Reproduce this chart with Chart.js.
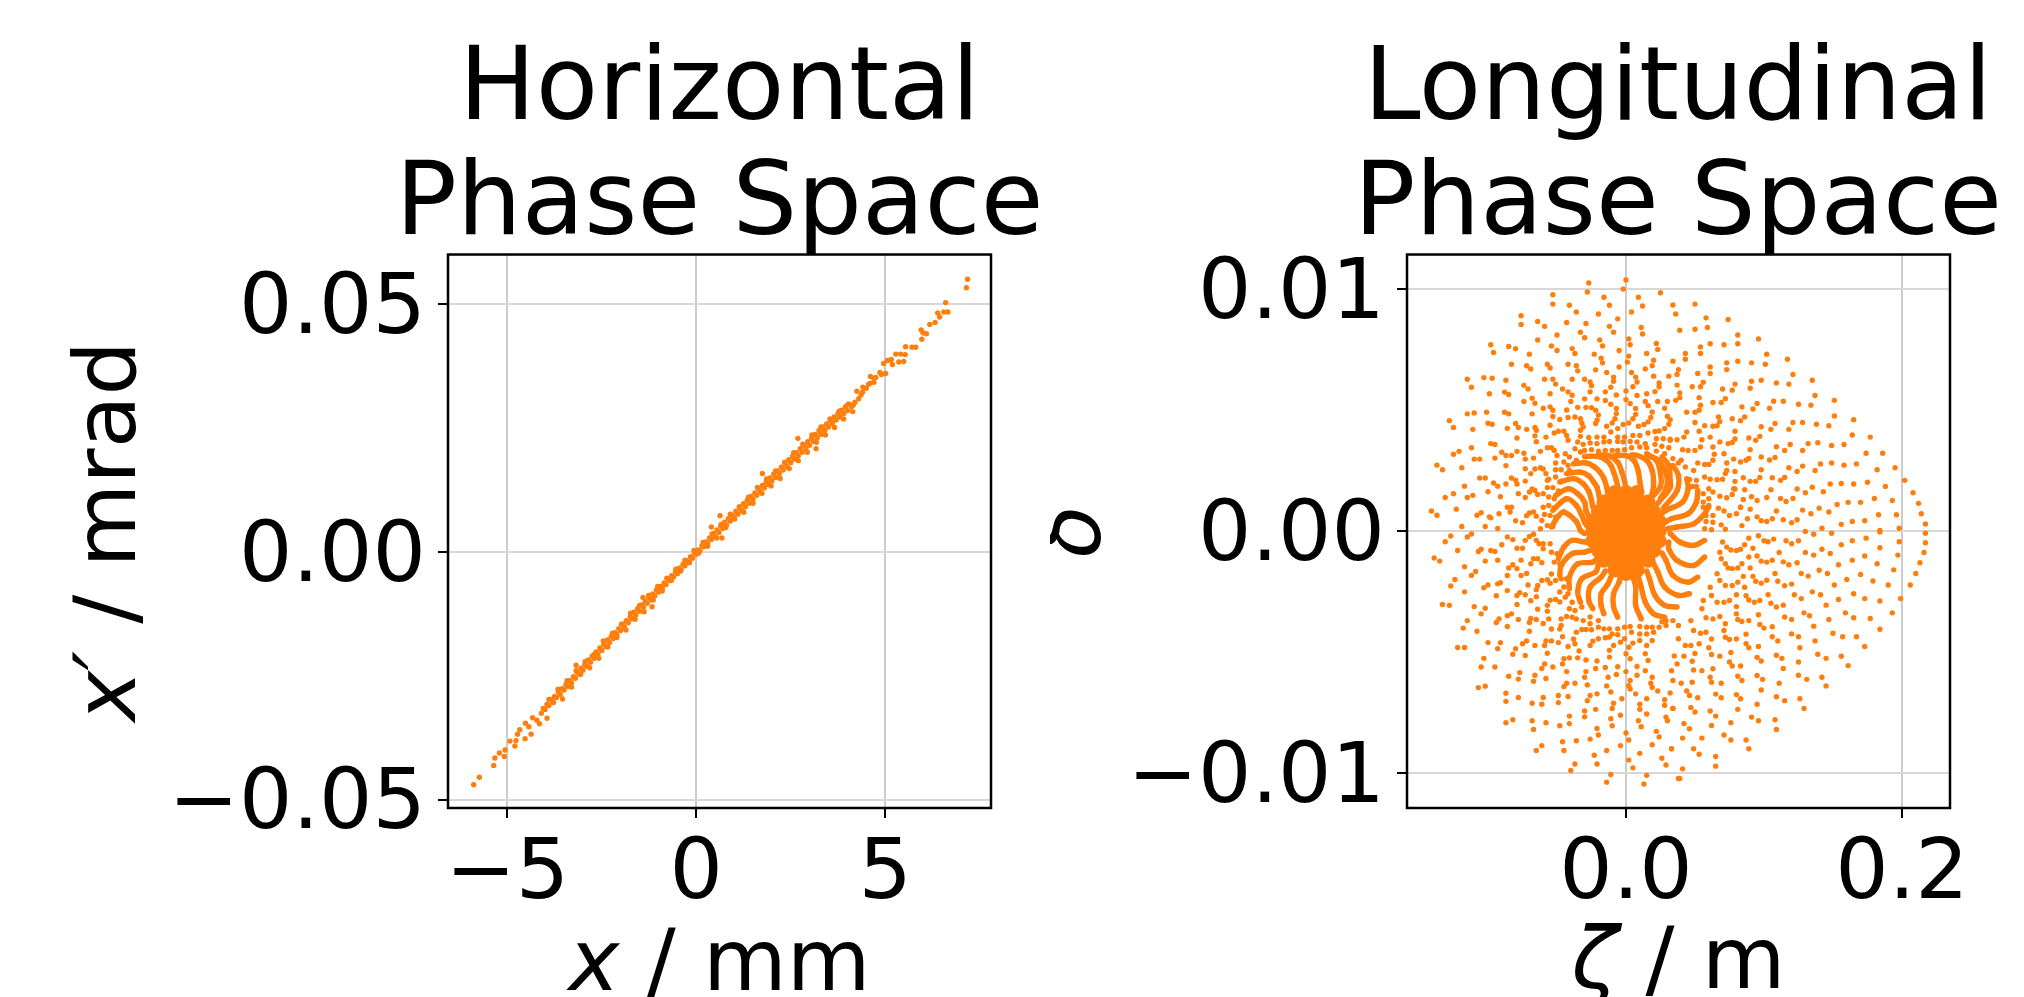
<!DOCTYPE html>
<html><head><meta charset="utf-8">
<style>html,body{margin:0;padding:0;background:#fff;width:2024px;height:997px;overflow:hidden}
#w{position:relative;width:2024px;height:997px;overflow:hidden}canvas{position:absolute;top:0}</style>
<script src="https://cdn.jsdelivr.net/npm/chart.js@4/dist/chart.umd.min.js"></script></head><body>
<div id="w"><canvas id="a" style="left:0"></canvas><canvas id="b" style="left:1050px"></canvas></div>
<script>
// Horizontal phase space: flat pairs x [mm], x' [1e-4 mrad]
const horizontalOutliers=[7.18,550,7.15,533,6.6,503,6.39,482,6.44,474,6.55,484,6.66,484,6.32,463,6.18,459,5.95,448,6.0,442,6.09,440,5.97,429,5.54,414,5.71,413,5.81,413,5.28,399,5.41,399,5.53,398,5.49,384,5.36,383,5.19,378,5.16,388,5.06,386,4.96,380,4.86,362,5.01,360,4.61,354,4.7,350,4.56,338,4.41,332,4.25,324,4.36,317,4.15,296,2.69,229,3.17,208,1.75,158,.63,73,.4,50,.68,28,-1.41,-92,-1.17,-111,-3.18,-229,-3.95,-336,-4.37,-368,-4.53,-377,-4.52,-346,-4.43,-353,-4.15,-347,-4.33,-335,-4.22,-340,-4.67,-359,-4.73,-368,-4.77,-381,-4.8,-392,-4.93,-382,-5.06,-400,-5.21,-406,-5.08,-413,-5.33,-416,-5.36,-431,-5.74,-455,-5.89,-470];
const horizontalBand=[-4.1,-326,-4.05,-316,-4,-318,-3.95,-308,-3.9,-310,-3.85,-298,-3.8,-302,-3.75,-292,-3.7,-294,-3.65,-283,-3.6,-288,-3.55,-276,-3.5,-279,-3.45,-268,-3.4,-272,-3.35,-260,-3.3,-264,-3.25,-252,-3.2,-255,-3.15,-243,-3.1,-247,-3.05,-235,-3,-239,-2.95,-227,-2.9,-231,-2.85,-218,-2.8,-223,-2.75,-210,-2.7,-215,-2.65,-202,-2.6,-207,-2.55,-194,-2.5,-199,-2.45,-186,-2.4,-191,-2.35,-178,-2.3,-183,-2.25,-171,-2.2,-175,-2.15,-163,-2.1,-167,-2.05,-155,-2,-159,-1.95,-146,-1.9,-152,-1.85,-139,-1.8,-143,-1.75,-131,-1.7,-135,-1.65,-122,-1.6,-128,-1.55,-115,-1.5,-120,-1.45,-107,-1.4,-112,-1.35,-100,-1.3,-104,-1.25,-92,-1.2,-97,-1.15,-85,-1.1,-89,-1.05,-77,-1,-81,-.95,-70,-.9,-73,-.85,-63,-.8,-66,-.75,-55,-.7,-58,-.65,-48,-.6,-51,-.55,-40,-.5,-44,-.45,-33,-.4,-36,-.35,-25,-.3,-28,-.25,-18,-.2,-21,-.15,-10,-.1,-13,-.05,-2,0,-5,.05,4,.1,2,.15,12,.2,10,.25,20,.3,17,.35,28,.4,25,.45,37,.5,31,.55,44,.6,39,.65,52,.7,47,.75,60,.8,54,.85,67,.9,62,.95,74,1,69,1.05,82,1.1,76,1.15,89,1.2,83,1.25,97,1.3,91,1.35,104,1.4,98,1.45,112,1.5,106,1.55,119,1.6,114,1.65,127,1.7,121,1.75,134,1.8,129,1.85,141,1.9,136,1.95,149,2,143,2.05,157,2.1,150,2.15,163,2.2,158,2.25,171,2.3,165,2.35,178,2.4,172,2.45,186,2.5,180,2.55,193,2.6,187,2.65,200,2.7,194,2.75,208,2.8,201,2.85,215,2.9,208,2.95,222,3,215,3.05,229,3.1,223,3.15,237,3.2,230,3.25,245,3.3,237,3.35,252,3.4,245,3.45,258,3.5,252,3.55,265,3.6,259,3.65,272,3.7,266,3.75,279,3.8,272,3.85,286,3.9,279,3.95,293,4,285,4.05,298,4.1,293,4.2,302,4.3,309,4.4,322,4.5,330,4.6,340,4.7,342,4.75,352,4.9,358];
const horizontalBandEdges=[-3.9,-298,-3.78,-304,-3.66,-277,-3.54,-297,-3.42,-260,-3.3,-273,-3.18,-240,-3.06,-247,-2.94,-221,-2.82,-234,-2.7,-207,-2.58,-215,-2.46,-180,-2.34,-192,-2.22,-164,-2.1,-173,-1.98,-146,-1.86,-158,-1.74,-124,-1.62,-136,-1.5,-108,-1.38,-121,-1.26,-88,-1.14,-97,-1.02,-70,-.9,-79,-.78,-53,-.66,-58,-.54,-35,-.42,-39,-.3,-17,-.18,-22,-.06,3,.06,-3,.18,19,.3,11,.42,36,.54,28,.66,55,.78,49,.9,76,1.02,66,1.14,91,1.26,80,1.38,110,1.5,98,1.62,130,1.74,118,1.86,147,1.98,133,2.1,163,2.22,148,2.34,181,2.46,168,2.58,200,2.7,184,2.82,217,2.94,201,3.06,236,3.18,221,3.3,252,3.42,236,3.54,268,3.66,251,3.78,284,3.9,268,4.02,298,4.14,283];
// Longitudinal phase space: flat pairs zeta [mm], delta [1e-5]
const coreTufts=[-8,160,0,160,8,160,-16,120,-8,120,0,120,8,120,16,120,-20,80,-12,80,-4,80,4,80,12,80,20,80,-24,40,-16,40,-8,40,0,40,8,40,16,40,24,40,-24,0,-20,0,-12,0,-4,0,4,0,12,0,20,0,24,0,-24,-40,-16,-40,-8,-40,0,-40,8,-40,16,-40,24,-40,-20,-80,-12,-80,-4,-80,4,-80,12,-80,20,-80,-16,-120,-8,-120,0,-120,8,-120,16,-120,-8,-160,0,-160,8,-160,0,-175];
const upperLeftDots=[-27,1026,-28,989,0,1039,-2,1001,-53,978,-53,939,-41,934,-36,906,-16,967,-12,934,-20,898,-6,878,4,906,9,967,12,931,25,986,-76,891,-76,855,-64,867,-59,847,-43,863,-29,859,-12,847,-9,823,-33,823,-30,800,-50,811,-64,791,11,842,12,815,-19,791,-17,766,2,795,3,771,22,776,23,751,-5,747,-98,771,-96,739,-85,764,-80,755,-54,766,-50,747,-39,755,-37,735,-70,732,-23,732,-18,715,-17,696,2,724,1,699,15,735,20,707,19,684,-5,679,-83,690,-72,684,-69,671,-57,690,-55,675,-42,690,-36,684,-35,663,-22,667,-14,656,4,656,14,671,31,641,20,641,-115,628,-112,595,-103,635,-97,632,-87,624,-59,628,-53,628,-51,608,-39,628,-30,628,-26,617,-25,601,-9,637,-9,620,-11,595,7,637,8,617,5,597,24,613,24,597,-74,603,-71,588,-88,575,-85,565,-99,568,-46,588,-42,576,-39,562,-55,568,-26,576,-15,576,-7,563,0,580,0,544,8,561,15,568,21,577,14,536,23,536,30,536,-68,550,-66,529,-74,536,-40,536,-30,547,-21,547,-15,540,28,508,-60,508,-55,514,-53,500,-43,501,-35,512,-29,512,-115,485,-110,489,-101,492,-88,492,-85,485,-68,485,-53,474,-48,462,-42,470,-128,457,-125,429,-100,446,-97,442,-111,421,-86,425,-80,445,-78,429,-72,421,-66,429,-65,417,-55,438,-79,385,-58,389,-66,394,-52,406,-98,362,-95,358,-112,345,-65,370,-125,318,-121,330,-110,298,-106,298,-90,326,-87,313,-83,313,-79,330,-74,322,-73,298,-67,302,-62,330,-95,302,-137,273,-133,254,-119,262,-87,271,-73,258,-69,238,-106,220,-102,220,-83,220,-80,211,-73,207,-117,186,-96,199,-93,186,-87,195,-79,195,-100,163,-125,155,-131,139,-115,139,-111,148,-91,142,-78,155,-73,139,-86,99,-83,99,-141,83,-137,66,-123,91,-108,66,-105,76,-99,59,-98,55,-92,72,-84,79,-119,19,-102,19,-93,11,-80,43,-75,35];
const upperLeftHooks=[-72,64,-70,75,-67,79,-65,62,-70,162,-68,174,-66,168,-64,152,-66,257,-62,262,-60,257,-58,238,-56,215,-57,345,-54,345,-52,334,-50,313,-49,413,-45,413,-43,396,-42,376,-37,472,-33,465,-32,447,-31,431,-33,417,-25,511,-22,500,-20,480,-21,459,-22,445,-11,525,-7,507,-7,486,-8,465,-10,447,-14,434,3,528,7,507,7,483,5,465,2,447,-2,441,16,519,19,493,18,470,16,452,13,441,9,434,30,475,32,461,31,442,28,424,24,414,21,412];
const upperLattice=[-33,392,-27,387,-21,389,-16,389,-11,410,-6,424,-6,389,-1,389,5,396,10,396,16,406,22,382,27,382,32,380,-35,369,-31,359,-26,365,-21,362,-16,369,-12,371,-6,371,-2,369,3,371,8,369,14,362,21,359,26,351,31,345,-37,341,-33,327,-30,334,-25,337,-20,331,-15,334,-10,334,-6,334,-1,337,4,345,10,348,15,345,22,331,28,320,-44,320,-41,307,-36,293,-45,286,-42,272,-51,282,-47,254,-51,254,-41,251,-51,224,-47,207,-57,210,-53,180,-57,180,-49,166,-60,155,-56,141,-52,134,-60,99,-56,106,-52,97,-59,69,-55,65,-51,58,-61,44,-57,23,-53,19,-62,10];
const upperRightHooks=[63,162,68,144,73,138,77,152,78,175,52,282,57,276,60,276,63,293,64,318,61,215,66,213,70,215,72,238,73,251,71,83,75,65,80,72,83,99,32,376,37,378,42,389,44,410,41,337,45,334,50,334,54,348,55,378];
const upperRightDots=[34,935,36,898,50,939,58,882,59,842,50,835,39,831,74,875,81,811,81,775,71,771,61,775,54,762,54,735,96,795,102,732,101,690,91,696,81,703,73,696,73,668,61,679,61,652,52,652,43,735,43,711,34,703,117,711,121,648,118,608,109,613,98,624,91,620,90,591,79,608,77,583,70,588,56,616,54,597,48,597,37,604,38,668,37,648,135,624,137,561,134,521,125,525,114,537,107,537,104,508,95,528,92,505,84,514,72,548,69,532,63,532,53,552,54,521,53,500,50,492,44,492,39,572,39,552,36,541,151,541,151,476,165,461,147,436,138,442,128,449,121,449,118,421,108,445,105,421,98,432,97,392,94,376,89,385,86,472,83,457,77,465,68,453,66,436,63,434,57,436,50,449,53,413,61,389,79,413,79,381,77,367,74,362,68,369,67,472,177,389,164,398,158,358,149,354,139,366,132,362,128,334,119,358,115,334,109,349,90,337,63,348,71,320,174,322,186,322,182,254,195,262,167,278,158,273,149,282,141,278,137,251,128,269,124,247,118,262,108,305,104,294,98,307,98,254,89,301,83,286,87,293,78,298,73,282,79,247,85,221,90,206,94,206,97,222,106,221,112,210,115,222,202,210,208,159,212,115,214,72,217,30,175,202,165,195,156,197,148,195,143,163,135,182,130,159,124,174,105,171,86,171,79,206,79,174,85,131,91,142,95,127,102,139,112,135,116,123,121,135,188,185,180,135,193,127,170,119,161,119,153,110,147,79,140,95,134,72,128,87,109,83,90,91,83,99,88,51,95,59,98,43,102,40,106,51,114,47,120,35,124,47,142,12,156,28,164,40,173,43,183,68,196,68,198,12,184,3,46,214,51,210,57,224,49,251,43,265,40,293,38,282,34,300,48,185,51,185,56,155,60,175,52,162,56,120,60,134,67,95,56,99,60,99,58,65,63,65,58,40,63,37,69,26,57,10,62,6,72,8,84,23];
const lowerRightDots=[217,-9,217,-48,216,-88,213,-131,210,-175,206,-223,199,-279,198,-44,197,-99,194,-160,190,-223,184,-289,193,-338,184,-406,177,-361,173,-279,165,-259,179,-206,170,-179,182,-135,164,-120,173,-103,184,-69,174,-29,164,-40,184,-4,156,-56,148,-92,154,-139,142,-75,136,-99,130,-88,136,-13,149,-9,130,-1,125,-40,120,-52,116,-40,124,-131,118,-139,114,-127,111,-88,146,-175,140,-162,132,-186,127,-175,160,-200,151,-223,135,-251,141,-263,127,-279,122,-263,154,-283,145,-306,159,-338,165,-358,147,-365,129,-338,133,-350,136,-393,150,-422,157,-437,167,-437,173,-477,137,-454,120,-425,125,-437,126,-482,139,-509,145,-526,156,-517,161,-556,125,-541,125,-596,131,-613,142,-604,145,-640,114,-568,113,-526,109,-513,98,-537,95,-522,96,-477,89,-482,87,-465,87,-426,106,-437,110,-454,106,-395,100,-401,97,-386,120,-365,115,-355,114,-306,109,-314,105,-298,103,-263,96,-346,89,-370,84,-374,81,-365,80,-342,80,-312,80,-263,87,-267,89,-285,93,-294,97,-287,102,-203,98,-215,94,-207,92,-187,86,-232,81,-211,85,-187,90,-152,89,-107,95,-103,98,-124,102,-128,106,-120,110,-207,115,-226,120,-219,108,-175,92,-71,96,-19,100,-40,103,-44,107,-33,89,-29,86,-56,80,-80,83,-75,76,-78,84,-135,81,-152,77,-155,74,-152,72,-135,69,-114,68,-87,70,-45,73,-66,72,-383,71,-411,72,-439,75,-448,80,-446,53,-466,60,-482,62,-446,62,-510,68,-517,50,-506,42,-517,35,-516,37,-549,48,-538,49,-574,55,-577,63,-569,76,-502,75,-541,77,-558,83,-558,81,-600,84,-618,61,-604,62,-625,69,-629,95,-597,99,-613,111,-629,98,-657,40,-629,48,-625,33,-577,34,-618,44,-661,46,-680,52,-689,65,-674,69,-689,80,-676,83,-693,109,-685,115,-701,126,-693,129,-733,95,-716,81,-737,47,-729,50,-748,34,-733,61,-744,65,-765,91,-769,96,-784,76,-792,62,-804,42,-796,46,-817,108,-780,109,-820,71,-843,76,-864,87,-864,89,-900,55,-856,41,-856,33,-900,49,-900,53,-923,65,-932,65,-972,41,-983,39,-1023];
const lowerRightHooks=[77,-225,72,-225,68,-204,66,-176,75,-287,71,-294,66,-294,62,-266,61,-232,68,-353,63,-363,58,-358,55,-321,56,-287,58,-418,54,-422,49,-411,47,-370,47,-473,43,-473,38,-445,38,-390];
const lowerLeftDots=[-139,-111,-135,-124,-131,-44,-127,-20,-115,-24,-112,-12,-122,-80,-107,-84,-105,-75,-98,-80,-95,-84,-102,-124,-93,-120,-90,-56,-86,-24,-82,-35,-79,-71,-75,-71,-76,-120,-117,-147,-112,-183,-109,-167,-124,-200,-127,-227,-117,-251,-103,-234,-100,-223,-93,-218,-91,-213,-86,-183,-85,-152,-82,-139,-79,-155,-76,-183,-72,-175,-86,-246,-94,-267,-79,-266,-77,-255,-73,-263,-71,-223,-65,-242,-65,-271,-69,-288,-79,-303,-133,-303,-128,-307,-110,-312,-102,-319,-105,-342,-115,-370,-118,-401,-108,-414,-86,-350,-83,-342,-92,-363,-94,-378,-86,-394,-78,-365,-69,-361,-65,-365,-70,-378,-64,-323,-57,-331,-60,-382,-56,-363,-70,-414,-54,-405,-48,-405,-46,-437,-100,-461,-91,-461,-93,-486,-122,-481,-117,-481,-80,-486,-75,-466,-72,-454,-66,-473,-59,-473,-58,-454,-54,-454,-49,-461,-42,-477,-37,-466,-34,-496,-57,-505,-82,-509,-73,-514,-103,-526,-105,-562,-95,-562,-85,-600,-78,-612,-77,-585,-67,-621,-66,-596,-58,-609,-61,-568,-59,-549,-53,-562,-46,-549,-45,-528,-41,-524,-35,-524,-29,-533,-43,-581,-22,-568,-15,-564,-6,-561,-21,-537,-29,-581,-30,-604,-37,-629,-45,-643,-43,-629,-28,-636,-14,-640,-13,-604,-7,-593,0,-581,8,-560,14,-577,8,-596,3,-618,2,-639,3,-653,19,-604,18,-629,19,-646,23,-661,-87,-704,-87,-670,-107,-647,-102,-641,-78,-688,-68,-712,-61,-716,-60,-688,-49,-680,-49,-709,-42,-684,-26,-680,-28,-701,-21,-673,-11,-665,7,-673,15,-693,-3,-693,-9,-712,-10,-733,-22,-737,-30,-744,-30,-768,-41,-765,-41,-796,-48,-805,-58,-792,-68,-784,-67,-820,-87,-792,-82,-780,-11,-776,-4,-761,-10,-805,10,-716,10,-737,15,-756,9,-784,11,-809,-21,-816,-20,-843,-26,-860,0,-835,2,-864,22,-828,24,-851,29,-769,30,-784,34,-733,28,-697,28,-720,32,-669,-4,-887,19,-883,33,-900,-36,-867,-46,-871,-45,-907,-61,-887,-65,-907,-14,-907,-23,-927,-21,-963,-37,-963,-40,-990,2,-947,5,-979,10,-919,26,-939,29,-967,-11,-1006,-14,-1038,15,-1010,13,-1046,38,-1023];
const lowerLeftHooks=[-73,-38,-70,-22,-67,-13,-65,-38,-63,-52,-69,-135,-67,-114,-64,-114,-61,-131,-64,-225,-61,-204,-57,-201,-55,-215,-57,-307,-55,-286,-51,-283,-48,-293,-47,-390,-47,-363,-43,-353,-39,-356,-38,-446,-36,-418,-32,-407,-29,-407,-25,-408,-26,-473,-24,-455,-20,-445,-15,-441,-12,-438,-12,-521,-12,-493,-9,-473,-4,-459,-1,-445,3,-528,0,-507,2,-480,5,-463,10,-452,16,-535,14,-507,15,-473,19,-452];
const lowerLattice=[-60,-52,-55,-52,-60,-73,-54,-87,-50,-93,-52,-128,-48,-135,-54,-177,-51,-204,-47,-197,-43,-197,-45,-231,-48,-252,-42,-259,-44,-273,-39,-294,-41,-321,-37,-328,-32,-314,-36,-363,-31,-370,-26,-355,-20,-370,-16,-404,-12,-404,-6,-404,-1,-397,3,-394,10,-394,15,-397,19,-397,24,-397,29,-390,-10,-425,-6,-428,4,-418,10,-425,15,-425,20,-418,26,-375,29,-370,34,-370,-26,-383,-20,-397];
// Solid swirl arms, each read from the blob edge outward: flat pairs zeta [mm], delta [1e-5]
const swirlArms=[
[-6,150,-6,182,-7,210,-9,245,-11,272,-15,296,-21,309,-30,309],
[-13,150,-14,182,-16,218,-19,245,-23,266,-29,282,-38,279],
[-19,130,-21,182,-23,199,-27,229,-33,244,-43,238],
[-24,100,-25,127,-27,165,-31,196,-38,217,-48,203],
[-27,60,-29,86,-30,120,-35,155,-42,175,-51,148],
[-28,20,-30,37,-32,65,-36,106,-43,134,-53,86],
[-30,-10,-33,3,-36,40,-45,79,-49,62,-54,17],
[1,150,0,175,-1,205,-3,245,-6,285,-12,312,-20,316],
[10,150,11,168,10,205,9,245,6,290,0,312,-8,313],
[18,135,19,155,20,196,19,251,15,293,8,313,4,315],
[25,135,29,175,30,212,28,255,23,295,16,312],
[17,130,25,185,25,238,22,293,15,320],
[23,115,32,180,32,210,31,272,26,307],
[27,95,37,168,38,231,34,272],
[24,65,29,86,41,120,45,175,44,217],
[28,35,33,51,45,72,51,120,52,168],
[30,10,37,17,49,30,57,72,60,106],
[32,-10,39,-45,49,-59,57,-38],
[31,-45,31,-73,37,-121,49,-142,57,-107],
[26,-90,29,-121,34,-183,45,-211,52,-190],
[20,-135,23,-169,28,-231,38,-266,46,-259],
[15,-165,17,-197,21,-266,28,-307,37,-314],
[9,-190,11,-231,14,-294,20,-342,28,-356],
[5,-190,7,-231,7,-307,11,-363],
[-4,-180,-5,-211,-9,-259,-9,-314,-6,-356],
[-11,-190,-13,-218,-18,-259,-18,-307,-16,-342],
[-15,-165,-18,-190,-26,-231,-27,-287,-24,-321],
[-20,-140,-22,-169,-32,-197,-35,-252,-33,-294],
[-20,-105,-24,-128,-35,-135,-41,-190,-41,-238],
[-24,-75,-30,-87,-39,-93,-47,-142,-48,-183],
[-25,-35,-29,-45,-39,-38,-45,-66,-49,-114]];
const zetaTicks=[0,.2],zetaLabels=['0.0','0.2'],deltaTicks=[-.01,0,.01],deltaLabels=['\u22120.01','0.00','0.01'];
const xTicks=[-5,0,5],xLabels=['\u22125','0','5'],xpTicks=[-.05,0,.05],xpLabels=['\u22120.05','0.00','0.05'];
const orange='#ff7f0e',FF='"DejaVu Sans"';
const hPts=f=>{const o=[];for(let i=0;i<f.length;i+=2)o.push({x:f[i],y:f[i+1]/1e4});return o};
const lPts=f=>{const o=[];for(let i=0;i<f.length;i+=2)o.push({x:f[i]/1000,y:f[i+1]/1e5});return o};
const frame={id:'frame',afterDraw(c){const a=c.chartArea,g=c.ctx;g.save();g.strokeStyle='#000';g.lineWidth=2.5;g.strokeRect(a.left,a.top,a.right-a.left,a.bottom-a.top);
 const t=c.options.plugins.frameLabels,draw=(runs)=>{let w=0;runs.forEach(r=>{g.font=(r[1]?'italic ':'')+'86px '+FF;w+=g.measureText(r[0]).width});let p=-w/2;runs.forEach(r=>{g.font=(r[1]?'italic ':'')+'86px '+FF;g.fillText(r[0],p,0);p+=g.measureText(r[0]).width})};
 g.fillStyle='#000';g.textAlign='left';g.textBaseline='alphabetic';
 g.save();g.translate((a.left+a.right)/2,t.xBase);draw(t.x);g.restore();
 g.save();g.translate(t.yBase,(a.top+a.bottom)/2);g.rotate(-Math.PI/2);draw(t.y);g.restore();g.restore()}};
function make(id,W,padR,yW,sets,xr,yr,xt,xl,yt,yl,title,labels){
 const el=document.getElementById(id);el.width=W;el.height=997;
 const tk=(arr)=>s=>{s.ticks=arr.map(v=>({value:v}))};
 return new Chart(el,{type:'scatter',data:{datasets:sets},plugins:[frame],options:{responsive:false,animation:false,
  layout:{padding:0},
  plugins:{legend:{display:false},tooltip:{enabled:false},frameLabels:labels,
   title:{display:true,text:title,color:'#000',font:{family:FF,size:102,lineHeight:1.13,weight:'normal'},padding:{top:35,bottom:-11}}},
  scales:{
   x:{type:'linear',min:xr[0],max:xr[1],afterBuildTicks:tk(xt),afterFit:s=>{s.height=997-808},
    ticks:{autoSkip:false,maxRotation:0,color:'#000',padding:8,font:{family:FF,size:84},callback:(v,i)=>xl[i]},
    border:{display:false},grid:{color:'#cccccc',lineWidth:2,tickColor:'#000',tickLength:10,tickWidth:2}},
   y:{type:'linear',min:yr[0],max:yr[1],afterBuildTicks:tk(yt),afterFit:s=>{s.width=yW},
    ticks:{autoSkip:false,color:'#000',padding:12,labelOffset:7,font:{family:FF,size:84},callback:(v,i)=>yl[i]},
    border:{display:false},grid:{color:'#d8d8d8',lineWidth:2,tickColor:'#000',tickLength:10,tickWidth:2}},
   pad:{type:'linear',position:'right',afterFit:s=>{s.width=padR},ticks:{display:false},grid:{display:false},border:{display:false}}}}});
}
const ds=(d,r)=>({data:d,backgroundColor:orange,borderWidth:0,pointRadius:r,pointHoverRadius:r});
const arm=d=>({data:d,showLine:true,tension:.35,borderColor:orange,borderWidth:5.4,backgroundColor:orange,pointRadius:2.7,pointBorderWidth:0});
make('a',1439,448,448,[ds(hPts(horizontalBand),2.7),ds(hPts(horizontalBandEdges),2.7),ds(hPts(horizontalOutliers),2.7)],[-6.57,7.8],[-.0517,.06],xTicks,xLabels,xpTicks,xpLabels,['Horizontal','Phase Space'],
 {x:[['x',1],[' / mm',0]],y:[['x\u2032',1],[' / mrad',0]],xBase:990,yBase:135});
make('b',1256,356,357,[upperLeftDots,upperLeftHooks,upperLattice,upperRightHooks,upperRightDots,lowerRightDots,lowerRightHooks,lowerLeftDots,lowerLeftHooks,lowerLattice].map(f=>ds(lPts(f),2.7)).concat(swirlArms.map(f=>arm(lPts(f)))).concat([ds(lPts(coreTufts),7.5)]),[-.1587,.2348],[-.01145,.01144],zetaTicks,zetaLabels,deltaTicks,deltaLabels,['Longitudinal','Phase Space'],
 {x:[['\u03b6',1],[' / m',0]],y:[['\u03b4',1]],xBase:988,yBase:50});
</script></body></html>
